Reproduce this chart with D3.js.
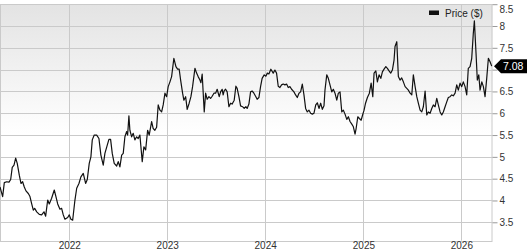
<!DOCTYPE html>
<html>
<head>
<meta charset="utf-8">
<script src="https://cdn.jsdelivr.net/npm/d3@7"></script>
<style>
  html, body { margin: 0; padding: 0; background: #fff; }
  svg { display: block; font-family: "Liberation Sans", Arial, sans-serif; }
</style>
</head>
<body>
<svg id="chart" width="527" height="251"></svg>
<script>
// Decimal-year time stamps
const times = [
2021.293,2021.320,2021.337,2021.361,2021.385,2021.402,2021.418,2021.436,2021.453,2021.469,
2021.490,2021.507,2021.524,2021.541,2021.558,2021.582,2021.599,2021.616,2021.633,2021.647,
2021.668,2021.694,2021.718,2021.742,2021.759,2021.780,2021.796,2021.820,2021.847,2021.864,
2021.882,2021.905,2021.922,2021.939,2021.956,2021.984,2022.000,2022.017,2022.035,2022.058,
2022.076,2022.099,2022.119,2022.143,2022.167,2022.184,
2022.204,2022.221,2022.235,2022.255,2022.280,2022.303,2022.323,2022.347,2022.364,2022.388,
2022.405,2022.422,2022.439,2022.459,2022.484,2022.500,2022.517,2022.535,2022.551,2022.568,
2022.586,2022.596,2022.609,2022.619,2022.637,2022.653,2022.670,2022.688,2022.704,2022.721,
2022.745,2022.762,2022.780,2022.800,2022.816,2022.841,2022.857,2022.874,2022.892,2022.908,
2022.926,2022.943,2022.959,2022.977,2022.994,2023.010,2023.028,2023.045,2023.068,
2023.089,2023.106,2023.122,2023.137,2023.157,2023.170,2023.188,2023.204,2023.224,2023.242,
2023.259,2023.283,2023.300,2023.316,2023.334,2023.344,2023.357,2023.378,2023.392,2023.408,
2023.426,2023.443,2023.459,2023.477,2023.494,2023.510,2023.531,2023.545,2023.561,2023.571,
2023.582,2023.596,2023.612,2023.630,2023.647,2023.663,2023.684,2023.701,2023.714,2023.732,
2023.749,2023.769,2023.786,2023.803,2023.816,2023.834,2023.851,2023.867,2023.885,2023.905,
2023.918,2023.936,2023.953,2023.969,2023.990,2024.007,
2024.022,2024.038,2024.058,2024.082,2024.099,2024.116,2024.133,2024.150,2024.167,2024.184,
2024.201,2024.218,2024.235,2024.252,2024.269,2024.293,2024.310,2024.327,2024.344,2024.361,
2024.378,2024.395,2024.412,2024.429,2024.446,2024.463,2024.480,2024.497,2024.515,2024.531,
2024.548,2024.565,2024.582,2024.599,2024.609,2024.627,2024.643,2024.660,2024.678,2024.694,
2024.711,2024.729,2024.745,2024.762,2024.780,2024.796,2024.813,2024.831,2024.847,2024.864,
2024.882,2024.898,2024.915,2024.926,2024.943,2024.959,
2024.977,2024.992,2025.007,2025.022,2025.041,2025.061,2025.079,2025.096,2025.109,2025.127,
2025.143,2025.160,2025.178,2025.194,2025.211,2025.229,2025.245,2025.262,2025.279,2025.296,
2025.313,2025.323,2025.341,2025.357,2025.374,2025.391,2025.408,2025.426,2025.443,2025.459,
2025.477,2025.494,2025.510,2025.528,2025.545,2025.561,2025.579,2025.596,2025.612,2025.630,
2025.647,2025.663,2025.681,2025.698,2025.714,2025.732,2025.749,2025.765,2025.783,2025.800,
2025.816,2025.834,2025.851,2025.867,2025.885,2025.902,2025.918,2025.936,2025.953,2025.969,
2025.987,2026.004,2026.020,2026.038,2026.055,2026.071,2026.089,2026.106,2026.122,2026.133,
2026.150,2026.163,2026.178,2026.191,2026.209,2026.225,2026.242,2026.259,2026.276,2026.293,
2026.310
];
// Price ($) values
const prices = [
4.31,4.09,4.41,4.43,4.42,4.48,4.76,4.81,4.97,4.85,
4.58,4.39,4.43,4.31,4.22,4.16,4.09,3.93,3.78,3.82,
3.74,3.68,3.67,3.74,3.64,4.01,3.92,4.05,4.24,4.09,
3.92,3.80,3.82,3.67,3.57,3.61,3.67,3.57,3.55,4.01,
4.28,4.39,4.54,4.62,4.39,4.48,
4.85,5.00,5.39,5.50,5.50,5.42,5.04,4.81,5.08,5.27,
5.40,5.40,5.08,4.85,4.79,4.89,4.77,5.04,5.08,5.46,
5.58,5.50,5.94,5.61,5.46,5.54,5.39,5.46,5.42,5.50,
4.89,5.23,5.16,5.61,5.50,5.81,5.65,5.61,5.68,6.19,
6.07,6.03,6.19,6.46,6.38,6.61,6.72,6.84,7.26,
7.07,7.01,7.01,6.76,6.46,6.30,6.38,6.09,6.23,6.38,
6.61,7.03,6.92,6.84,6.76,6.70,6.90,6.03,6.46,6.32,
6.38,6.34,6.39,6.46,6.46,6.55,6.38,6.49,6.55,6.42,
6.52,6.55,6.49,6.15,6.23,6.21,6.30,6.62,6.57,6.38,
6.17,6.15,6.11,6.15,6.11,6.21,6.49,6.51,6.46,6.38,
6.32,6.36,6.61,6.80,6.88,6.85,
6.92,6.90,7.01,6.92,6.99,6.92,6.62,6.59,6.65,6.67,
6.65,6.67,6.59,6.61,6.55,6.49,6.42,6.36,6.46,6.49,
6.67,6.42,6.11,6.03,6.07,6.00,5.98,6.00,6.19,6.24,
6.11,6.23,6.09,6.17,6.53,6.88,6.80,6.65,6.49,6.55,
6.46,6.30,6.46,6.49,6.03,6.07,5.98,5.86,5.92,5.81,
5.75,5.69,5.52,5.65,5.92,5.88,
5.84,5.96,6.07,6.23,6.36,6.46,6.69,6.38,6.92,6.97,
6.72,6.88,6.80,6.95,7.01,7.07,7.03,6.97,6.92,6.99,
7.22,7.53,7.64,6.84,6.76,6.81,6.72,6.61,6.57,6.53,
6.46,6.42,6.88,6.61,6.38,6.23,6.07,6.03,6.15,6.51,
5.96,6.03,6.00,6.11,6.19,6.15,6.34,6.19,6.03,5.96,
6.03,6.15,6.26,6.36,6.38,6.42,6.40,6.46,6.65,6.53,
6.69,6.61,6.72,6.61,6.42,7.03,7.07,7.26,7.83,8.12,
7.37,6.76,6.88,6.53,6.72,6.61,6.38,6.80,7.26,7.18,
7.08
];
const yTicks = [3.5, 4, 4.5, 5, 5.5, 6, 6.5, 7, 7.5, 8, 8.5];
// tick "7" sits behind the last-value flag in the reference
const yTickLabels = [3.5, 4, 4.5, 5, 5.5, 6, 6.5, 7.5, 8, 8.5];
const xTickYears = [2022, 2023, 2024, 2025, 2026];
const xDomainYears = [2021.293, 2026.316];
const yDomain = [3.078, 8.5];
const seriesName = "Price ($)";
const lastLabel = "7.08";

function toDate(t) {
  const y = Math.floor(t);
  const start = Date.UTC(y, 0, 1), end = Date.UTC(y + 1, 0, 1);
  return new Date(start + (t - y) * (end - start));
}

const data = times.map((t, i) => ({ date: toDate(t), value: prices[i] }));

const plot = { left: 0, right: 492.3, top: 4.2, bottom: 240.7 };
const svg = d3.select("#chart");
const FS = "10px";

const x = d3.scaleUtc().domain(xDomainYears.map(toDate)).range([plot.left, plot.right]);
const y = d3.scaleLinear().domain(yDomain).range([plot.bottom, plot.top]);

// background gradient
const defs = svg.append("defs");
const grad = defs.append("linearGradient").attr("id", "bg").attr("x1", 0).attr("y1", 0).attr("x2", 0).attr("y2", 1);
grad.append("stop").attr("offset", "0%").attr("stop-color", "#e3e3e3");
grad.append("stop").attr("offset", "55%").attr("stop-color", "#ffffff");
grad.append("stop").attr("offset", "100%").attr("stop-color", "#ffffff");

svg.append("rect")
  .attr("x", plot.left).attr("y", plot.top)
  .attr("width", plot.right - plot.left).attr("height", plot.bottom - plot.top)
  .attr("fill", "url(#bg)");

// horizontal grid
svg.append("g").selectAll("line").data(yTicks).join("line")
  .attr("x1", plot.left).attr("x2", plot.right)
  .attr("y1", d => Math.round(y(d)) + 0.5).attr("y2", d => Math.round(y(d)) + 0.5)
  .attr("stroke", "#cacaca").attr("stroke-width", 1);

// vertical grid
const yearDates = xTickYears.map(yr => new Date(Date.UTC(yr, 0, 1)));
svg.append("g").selectAll("line").data(yearDates).join("line")
  .attr("x1", d => Math.round(x(d)) + 0.5).attr("x2", d => Math.round(x(d)) + 0.5)
  .attr("y1", plot.top).attr("y2", plot.bottom)
  .attr("stroke", "#cacaca").attr("stroke-width", 1);

// plot border
svg.append("rect")
  .attr("x", plot.left + 0.5).attr("y", Math.round(plot.top) + 0.5)
  .attr("width", Math.round(plot.right) - plot.left - 0.5)
  .attr("height", Math.round(plot.bottom) - Math.round(plot.top))
  .attr("fill", "none").attr("stroke", "#cacaca");

// right axis ticks
const yAxis = d3.axisRight(y).tickValues(yTicks).tickSize(5).tickPadding(2)
  .tickFormat(d => yTickLabels.includes(d) ? d3.format("")(d) : "");
const gy = svg.append("g").attr("transform", `translate(${Math.round(plot.right) + 0.5},0)`).call(yAxis);
gy.select(".domain").remove();
gy.selectAll(".tick line").attr("stroke", "#9a9a9a");
gy.selectAll(".tick text").attr("fill", "#333").attr("font-size", FS)
  .attr("font-family", "'Liberation Sans', Arial, sans-serif");
gy.selectAll(".tick").filter(d => !yTickLabels.includes(d)).select("text").remove();
// keep the top label inside the picture
gy.selectAll(".tick").filter(d => d === 8.5).select("text").attr("dy", "0.85em").attr("y", 0);

// bottom axis (labels only)
const xAxis = d3.axisBottom(x).tickValues(yearDates).tickSize(0).tickPadding(0)
  .tickFormat(d3.utcFormat("%Y"));
const gx = svg.append("g").attr("transform", `translate(0,${plot.bottom})`).call(xAxis);
gx.select(".domain").remove();
gx.selectAll(".tick text").attr("fill", "#333").attr("font-size", FS)
  .attr("font-family", "'Liberation Sans', Arial, sans-serif")
  .attr("y", 8).attr("dy", 0);

// price line
const line = d3.line().x(d => x(d.date)).y(d => y(d.value));
svg.append("path").datum(data)
  .attr("d", line)
  .attr("fill", "none").attr("stroke", "#111").attr("stroke-width", 1.2)
  .attr("stroke-linejoin", "round");

// legend
const lg = svg.append("g").attr("transform", "translate(429,10.5)");
lg.append("rect").attr("width", 10).attr("height", 4.5).attr("fill", "#111");
lg.append("text").attr("x", 16).attr("y", 6).attr("font-size", FS).attr("fill", "#222")
  .text(seriesName);

// last value label
const lastY = y(prices[prices.length - 1]);
const lx = Math.round(plot.right) + 2;
const lab = svg.append("g");
lab.append("path")
  .attr("d", `M${lx},${lastY} L${lx + 7},${lastY - 7} L527,${lastY - 7} L527,${lastY + 7} L${lx + 7},${lastY + 7} Z`)
  .attr("fill", "#000");
lab.append("text").attr("x", lx + 9).attr("y", lastY + 3.6)
  .attr("font-size", "10.5px").attr("fill", "#fff").text(lastLabel);
</script>
</body>
</html>
